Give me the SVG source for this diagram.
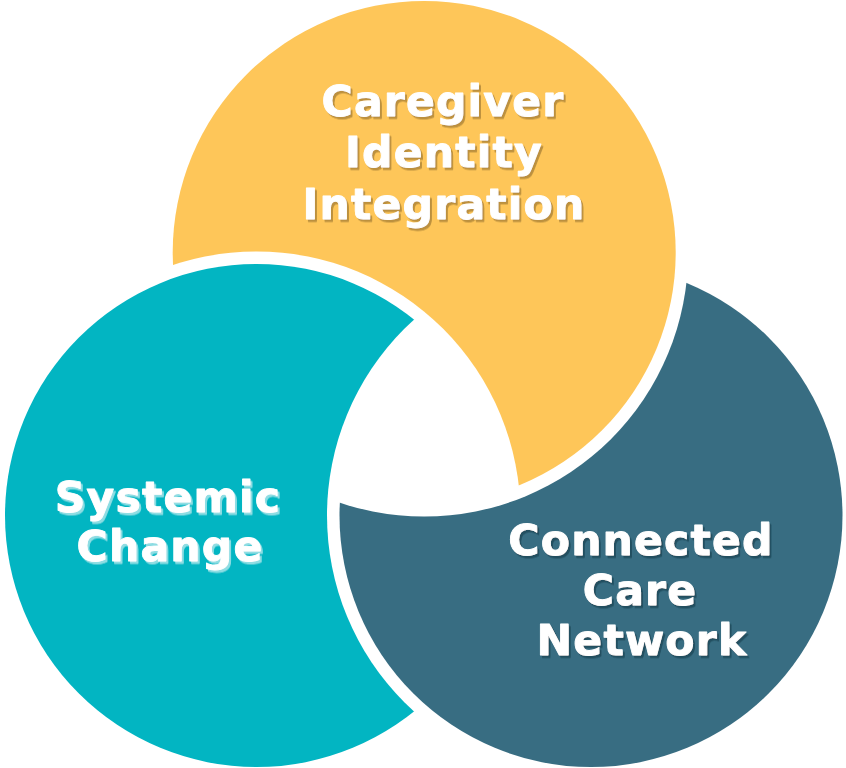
<svg xmlns="http://www.w3.org/2000/svg" width="846" height="768" viewBox="0 0 846 768">
<defs>
<style>
.lbl{font-family:"DejaVu Sans","Liberation Sans",sans-serif;font-weight:bold;font-size:42.5px;letter-spacing:1.2px;text-anchor:middle;fill:#ffffff;stroke:#ffffff;stroke-width:0.9px;stroke-linejoin:round}
</style>
<mask id="cutY" maskUnits="userSpaceOnUse" x="0" y="0" width="846" height="768"><rect width="846" height="768" fill="#fff"/><circle cx="256.5" cy="515.5" r="264" fill="#000"/></mask>
<mask id="cutT" maskUnits="userSpaceOnUse" x="0" y="0" width="846" height="768"><rect width="846" height="768" fill="#fff"/><circle cx="591" cy="515.5" r="264" fill="#000"/></mask>
<mask id="cutB" maskUnits="userSpaceOnUse" x="0" y="0" width="846" height="768"><rect width="846" height="768" fill="#fff"/><circle cx="424.2" cy="252.5" r="264" fill="#000"/></mask>
<filter id="shY" x="-10%" y="-20%" width="120%" height="150%"><feDropShadow dx="2" dy="2.5" stdDeviation="0.3" flood-color="#b58a3a" flood-opacity="0.9"/></filter>
<filter id="shT" x="-10%" y="-20%" width="120%" height="150%"><feDropShadow dx="2" dy="2.5" stdDeviation="0.3" flood-color="#8fdde3" flood-opacity="1"/></filter>
<filter id="shB" x="-10%" y="-20%" width="120%" height="150%"><feDropShadow dx="2" dy="2.5" stdDeviation="0.3" flood-color="#244f60" flood-opacity="1"/></filter>
</defs>
<rect width="846" height="768" fill="#ffffff"/>
<g id="node-caregiver-identity">
<circle cx="424.2" cy="252.5" r="251.5" fill="#fec659" mask="url(#cutY)"/>
<text class="lbl" filter="url(#shY)"><tspan x="443" y="116">Caregiver</tspan><tspan x="444" y="167">Identity</tspan><tspan x="444" y="219">Integration</tspan></text>
</g>
<g id="node-systemic-change">
<circle cx="256.5" cy="515.5" r="251.5" fill="#02b5c2" mask="url(#cutT)"/>
<text class="lbl" filter="url(#shT)"><tspan x="168" y="512">Systemic</tspan><tspan x="170" y="561">Change</tspan></text>
</g>
<g id="node-connected-care">
<circle cx="591" cy="515.5" r="251.5" fill="#386d82" mask="url(#cutB)"/>
<text class="lbl" filter="url(#shB)"><tspan x="641" y="555">Connected</tspan><tspan x="640" y="605">Care</tspan><tspan x="642" y="655">Network</tspan></text>
</g>
<g id="connectors"></g>
</svg>
